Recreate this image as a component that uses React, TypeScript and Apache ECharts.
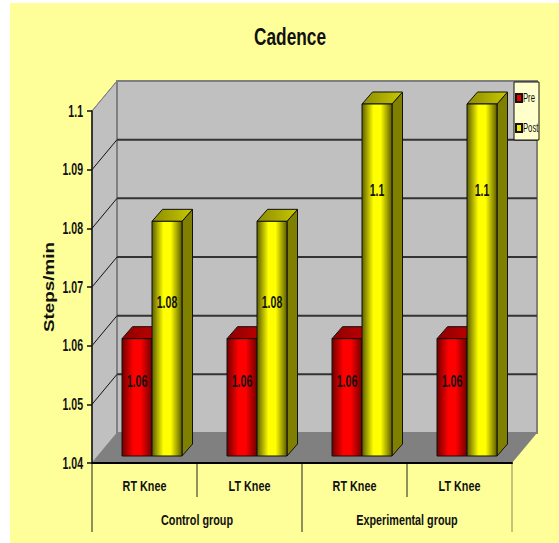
import React, { useEffect, useRef } from "react";
import * as echarts from "echarts";

const title = "Cadence";
const knees = ["RT Knee", "LT Knee", "RT Knee", "LT Knee"];
const groups = ["Control group", "Experimental group"];
const seriesNames = ["Pre", "Post"];
const preValues = [1.06, 1.06, 1.06, 1.06];
const postValues = [1.08, 1.08, 1.1, 1.1];
const yTicks = [1.04, 1.05, 1.06, 1.07, 1.08, 1.09, 1.1];
const yTitle = "Steps/min";

// Projection of the box: how far the back wall sits from the front plane.
const WALL_DX = 25;
const WALL_DY = -30;
// Bars stand slightly in front of the back wall.
const BAR_DX = 7.5;
const BAR_DY = -7;
const BAR_W = 30;
const CAP_DX = 10.5;
const CAP_DY = -12;
// Height of a value label under its bar's top edge, per value.
const labelDrop = (v: number) => (v >= 1.1 ? 86 : v >= 1.08 ? 81 : 43);

const sans = "'Liberation Sans', Arial, sans-serif";

const palette = {
  pre: { edge: "#700000", mid: "#ff0000", top: ["#8c0000", "#c80000"], side: "#800000" },
  post: { edge: "#5c5c00", mid: "#ffff00", top: ["#8c8c00", "#c8c800"], side: "#808000" },
};

function frameItem(params: any, api: any) {
  const cs = params.coordSys;
  const left = cs.x;
  const right = cs.x + cs.width;
  const bottom = cs.y + cs.height;
  const children: any[] = [];
  // side wall
  children.push({
    type: "polygon",
    shape: { points: [[left, cs.y], [left + WALL_DX, cs.y + WALL_DY], [left + WALL_DX, bottom + WALL_DY], [left, bottom]] },
    style: { fill: "#c0c0c0", stroke: "#808080", lineWidth: 1 },
  });
  // back wall
  children.push({
    type: "rect",
    shape: { x: left + WALL_DX, y: cs.y + WALL_DY, width: cs.width, height: cs.height },
    style: { fill: "#c0c0c0", stroke: "#808080", lineWidth: 2 },
  });
  // floor
  children.push({
    type: "polygon",
    shape: { points: [[left, bottom], [left + WALL_DX, bottom + WALL_DY], [right + WALL_DX, bottom + WALL_DY], [right, bottom]] },
    style: { fill: "#808080" },
  });
  // gridlines running along the side wall and across the back wall
  yTicks.forEach((t) => {
    if (t === yTicks[0]) return;
    const y = api.coord([0, t])[1];
    const isTop = t === yTicks[yTicks.length - 1];
    children.push({
      type: "line",
      shape: { x1: left, y1: y, x2: left + WALL_DX, y2: y + WALL_DY },
      style: { stroke: isTop ? "#808080" : "#111111", lineWidth: 1 },
    });
    if (!isTop) {
      children.push({
        type: "line",
        shape: { x1: left + WALL_DX, y1: y + WALL_DY, x2: right + WALL_DX, y2: y + WALL_DY },
        style: { stroke: "#333333", lineWidth: 2 },
      });
    }
  });
  // separators under the axis: knee level, then group level
  const band = cs.width / knees.length;
  knees.forEach((_, i) => {
    if (i % 2 === 1) {
      children.push({
        type: "line",
        shape: { x1: left + band * i, y1: bottom, x2: left + band * i, y2: bottom + 34 },
        style: { stroke: "#222222", lineWidth: 1 },
      });
    }
  });
  [0, 2, 4].forEach((i) => {
    children.push({
      type: "line",
      shape: { x1: left + band * i, y1: bottom, x2: left + band * i, y2: bottom + 69 },
      style: { stroke: i === 4 ? "#8a8a60" : "#222222", lineWidth: 1 },
    });
  });
  return { type: "group", children };
}

function barItem(offset: number, colors: typeof palette.pre) {
  return (params: any, api: any) => {
    const idx = api.value(0);
    const v = api.value(1);
    const [cx, topY] = api.coord([idx, v]);
    const baseY = api.coord([idx, yTicks[0]])[1];
    const x = cx + BAR_DX + offset * BAR_W;
    const y = topY + BAR_DY;
    const b = baseY + BAR_DY;
    const r = x + BAR_W;
    const edge = { stroke: "#111111", lineWidth: 1 };
    return {
      type: "group",
      children: [
        {
          type: "polygon",
          shape: { points: [[r, y], [r + CAP_DX, y + CAP_DY], [r + CAP_DX, b + CAP_DY], [r, b]] },
          style: { fill: colors.side, ...edge },
        },
        {
          type: "polygon",
          shape: { points: [[x, y], [x + CAP_DX, y + CAP_DY], [r + CAP_DX, y + CAP_DY], [r, y]] },
          style: {
            fill: new echarts.graphic.LinearGradient(0, 0, 1, 0, [
              { offset: 0, color: colors.top[0] },
              { offset: 1, color: colors.top[1] },
            ]),
            ...edge,
          },
        },
        {
          type: "rect",
          shape: { x, y, width: BAR_W, height: b - y },
          style: {
            fill: new echarts.graphic.LinearGradient(0, 0, 1, 0, [
              { offset: 0, color: colors.edge },
              { offset: 0.38, color: colors.mid },
              { offset: 0.62, color: colors.mid },
              { offset: 1, color: colors.edge },
            ]),
            ...edge,
          },
        },
        {
          type: "text",
          style: {
            x: x + BAR_W / 2,
            y: y + labelDrop(v),
            text: String(v),
            align: "center",
            verticalAlign: "middle",
            fill: "#111111",
            font: `bold 16px ${sans}`,
          },
        },
      ],
    };
  };
}

// The installed sans has no narrow cut, so the labels are squeezed horizontally;
// the rotated axis title runs wider than its natural length.
function fitTexts(root: HTMLElement) {
  root.querySelectorAll("svg text").forEach((node) => {
    const el = node as SVGTextElement;
    if (el.hasAttribute("textLength")) return;
    const content = el.textContent || "";
    let length: number;
    if (content === yTitle) length = 90;
    else if (seriesNames.includes(content)) length = el.getComputedTextLength() * 0.64;
    else if (/^[\d.]+$/.test(content)) length = el.getComputedTextLength() * 0.66;
    else length = el.getComputedTextLength() * 0.72;
    el.setAttribute("textLength", String(length));
    el.setAttribute("lengthAdjust", "spacingAndGlyphs");
  });
}

export default function App() {
  const ref = useRef<HTMLDivElement>(null);
  useEffect(() => {
    document.body.style.margin = "0";
    const chart = echarts.init(ref.current!, undefined, { renderer: "svg" });
    chart.on("finished", () => fitTexts(ref.current!));
    chart.setOption({
      animation: false,
      backgroundColor: "#ffffff",
      graphic: [
        { type: "rect", z: -10, silent: true, shape: { x: 10, y: 3, width: 549, height: 540 }, style: { fill: "#ffff99" } },
        // legend box, sized to the squeezed legend text
        { type: "rect", z: 15, silent: true, shape: { x: 514, y: 82, width: 25, height: 58 }, style: { fill: "#ffffcc", stroke: "#111111", lineWidth: 1 } },
      ],
      title: {
        text: title,
        left: 285,
        textAlign: "center",
        top: 19,
        textStyle: { fontFamily: sans, fontWeight: "bold", fontSize: 24, color: "#111111" },
      },
      legend: {
        left: 514,
        top: 82,
        orient: "vertical",
        icon: "rect",
        itemWidth: 6,
        itemHeight: 8,
        itemGap: 18,
        padding: [10, 0, 7, 1],
        z: 20,
        textStyle: { fontFamily: sans, fontSize: 12, color: "#111111", padding: [0, 0, 0, -4] },
        data: seriesNames,
      },
      grid: { left: 92, right: 47, top: 111, bottom: 80 },
      xAxis: [
        {
          type: "category",
          data: knees,
          axisLine: { lineStyle: { color: "#000000", width: 2 } },
          axisTick: { show: false },
          axisLabel: { margin: 15, fontFamily: sans, fontWeight: "bold", fontSize: 15, color: "#111111" },
          z: 10,
        },
        {
          type: "category",
          position: "bottom",
          data: groups,
          axisLine: { show: false },
          axisTick: { show: false },
          axisLabel: { margin: 49, fontFamily: sans, fontWeight: "bold", fontSize: 15, color: "#111111" },
        },
      ],
      yAxis: {
        type: "value",
        min: 1.04,
        max: 1.1,
        interval: 0.01,
        name: yTitle,
        nameLocation: "middle",
        nameGap: 36,
        nameMoveOverlap: false,
        nameTextStyle: { fontFamily: sans, fontWeight: "bold", fontSize: 15, color: "#111111" },
        splitLine: { show: false },
        axisLine: { show: true, lineStyle: { color: "#111111", width: 1.5 } },
        axisTick: { show: true, length: 5, lineStyle: { color: "#111111", width: 1.5 } },
        axisLabel: { margin: 9, fontFamily: sans, fontWeight: "bold", fontSize: 16, color: "#111111" },
        z: 10,
      },
      series: [
        {
          name: "frame",
          type: "custom",
          coordinateSystem: "cartesian2d",
          renderItem: frameItem,
          data: [[0, 1.04]],
          clip: false,
          silent: true,
          z: 1,
        },
        {
          name: seriesNames[0],
          type: "custom",
          coordinateSystem: "cartesian2d",
          renderItem: barItem(-1, palette.pre),
          itemStyle: { color: "#e00000", borderColor: "#111111", borderWidth: 1 },
          encode: { x: 0, y: 1 },
          data: preValues.map((v, i) => [i, v]),
          clip: false,
          z: 3,
        },
        {
          name: seriesNames[1],
          type: "custom",
          coordinateSystem: "cartesian2d",
          renderItem: barItem(0, palette.post),
          itemStyle: { color: "#f0f000", borderColor: "#111111", borderWidth: 1 },
          encode: { x: 0, y: 1 },
          data: postValues.map((v, i) => [i, v]),
          clip: false,
          z: 4,
        },
      ],
    });
    return () => chart.dispose();
  }, []);
  return <div ref={ref} style={{ width: 559, height: 543 }} />;
}
